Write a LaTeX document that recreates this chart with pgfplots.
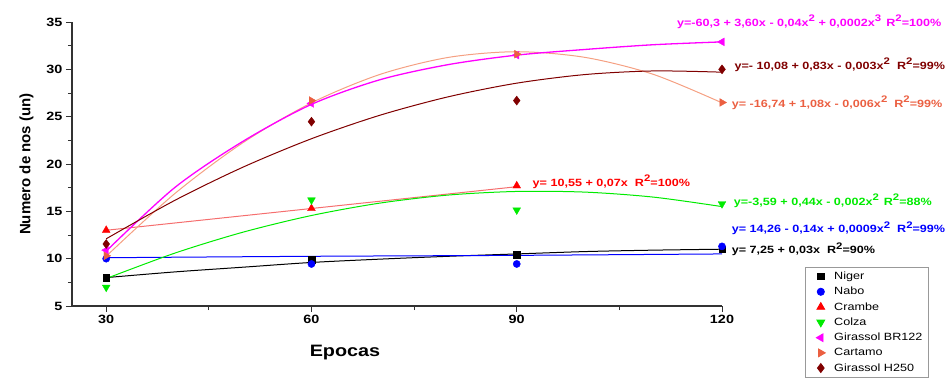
\documentclass[border=0pt]{standalone}
\usepackage{pgfplots}
\pgfplotsset{compat=1.18}
\usepackage{fontspec}
\setmainfont[FakeStretch=1.2]{Liberation Sans}
\newfontfamily\ylabfont{Liberation Sans}
\definecolor{cgreen}{RGB}{0,235,0}
\definecolor{cblue}{RGB}{0,0,255}
\definecolor{cred}{RGB}{255,0,0}
\definecolor{credline}{RGB}{245,110,110}
\definecolor{cmag}{RGB}{255,0,255}
\definecolor{ccoral}{RGB}{235,95,65}
\definecolor{ccoralline}{RGB}{245,160,130}
\definecolor{cdark}{RGB}{128,0,0}
\definecolor{caxis}{RGB}{50,50,50}
\newcommand{\eqf}{\fontsize{10.5}{12}\selectfont\bfseries}
\newcommand{\sq}[1]{\raisebox{0.45em}{\fontsize{9.5}{10}\selectfont #1}}
\begin{document}
\begin{tikzpicture}
\path[use as bounding box] (-72pt,-85pt) rectangle (878pt,306pt);
\begin{axis}[
  at={(0pt,0pt)}, anchor=south west,
  scale only axis, width=650pt, height=284pt,
  xmin=25, xmax=120, ymin=5, ymax=35,
  clip=false,
  axis x line*=bottom, axis y line*=left,
  axis line style={-, line width=1.1pt, caxis},
  xtick={30,60,90,120}, minor xtick={45,75,105},
  ytick={5,10,...,35}, minor ytick={7.5,12.5,...,32.5},
  tick align=outside,
  major tick length=6pt, minor tick length=4pt,
  every tick/.style={line width=1pt, caxis},
  /pgf/number format/assume math mode=true,
  tick label style={font=\fontsize{12}{14}\selectfont\bfseries},
  xlabel={Epocas},
  xlabel style={at={(axis description cs:0.42,-0.165)}, anchor=center, font=\fontsize{16.5}{18}\selectfont\bfseries},
  ylabel={Numero de nos (un)},
  ylabel style={at={(axis description cs:-0.07,0.5)}, anchor=center, font=\ylabfont\fontsize{15}{17}\selectfont\bfseries},
  legend style={at={(axis description cs:1.1277,-0.2535)}, anchor=south west,
    draw=gray!80, line width=0.8pt, font=\fontsize{10.5}{12}\selectfont,
    row sep=2.2pt, inner xsep=4pt, inner ysep=3pt},
  legend cell align=left,
  legend image code/.code={\path[#1] (0pt,0pt) (22pt,0pt); \draw[#1] plot coordinates {(11pt,0pt)};},
]
% fitted curves
\addplot[forget plot, smooth, black, line width=1pt] coordinates {(30,8.0) (40,8.6) (50,9.1) (60,9.6) (70,9.95) (80,10.25) (90,10.5) (100,10.75) (110,10.9) (120,11.0)};
\addplot[forget plot, smooth, cblue, line width=1pt] coordinates {(30,10.1) (60,10.25) (90,10.35) (120,10.5)};
\addplot[forget plot, credline, line width=1pt] coordinates {(30,13.0) (60,15.3) (90,17.6)};
\addplot[forget plot, smooth, cgreen, line width=1pt] coordinates {(30,7.9) (40,10.58) (50,12.8) (60,14.56) (70,15.87) (80,16.72) (90,17.1) (100,17.03) (110,16.5) (120,15.5)};
\addplot[forget plot, smooth, ccoralline, line width=1pt] coordinates {(30,10.26) (40,16.86) (50,22.26) (60,26.46) (70,29.46) (80,31.26) (90,31.86) (100,31.26) (110,29.46) (120,26.46)};
\addplot[forget plot, smooth, cmag, line width=1.3pt] coordinates {(30,10.8) (40,17.5) (50,22.4) (60,26.3) (70,28.9) (80,30.5) (90,31.5) (100,32.1) (110,32.6) (120,32.9)};
\addplot[forget plot, smooth, cdark, line width=1pt] coordinates {(30,12.1) (40,16.15) (50,19.67) (60,22.67) (70,25.15) (80,27.1) (90,28.54) (100,29.45) (110,29.83) (120,29.7)};
% data markers
\addplot[only marks, mark=square*, mark size=3.3pt, black] coordinates {(30,8.0) (60,9.86) (90,10.45) (120,11.0)};
\addlegendentry{Niger}
\addplot[only marks, mark=*, mark size=3.6pt, cblue] coordinates {(30,10.0) (60,9.44) (90,9.44) (120,11.3)};
\addlegendentry{Nabo}
\addplot[only marks, mark=triangle*, mark size=4.5pt, cred] coordinates {(30,13.0) (60,15.3) (90,17.7)};
\addlegendentry{Crambe}
\addplot[only marks, mark=triangle*, mark size=4.5pt, cgreen, mark options={rotate=180}] coordinates {(30,6.98) (60,16.2) (90,15.14) (120,15.8)};
\addlegendentry{Colza}
\addplot[only marks, mark=triangle*, mark size=4.5pt, cmag, mark options={rotate=90}] coordinates {(30,10.9) (60,26.4) (90,31.5) (120,32.9)};
\addlegendentry{Girassol BR122}
\addplot[only marks, mark=triangle*, mark size=4.5pt, ccoral, mark options={rotate=-90}] coordinates {(30,10.3) (60,26.7) (90,31.6) (120,26.5)};
\addlegendentry{Cartamo}
\addplot[only marks, mark=diamond*, mark size=4.5pt, cdark] coordinates {(30,11.55) (60,24.47) (90,26.7) (120,30.0)};
\addlegendentry{Girassol H250}
% equations
\node[anchor=west, text=cmag, font=\eqf, inner sep=0pt] at (axis cs:113.4,35.0) {y=-60,3 + 3,60x - 0,04x\sq{2} + 0,0002x\sq{3}\hspace{5pt}R\sq{2}=100\%};
\node[anchor=west, text=cdark, font=\eqf, inner sep=0pt] at (axis cs:121.8,30.5) {y=- 10,08 + 0,83x - 0,003x\sq{2}\hspace{7pt}R\sq{2}=99\%};
\node[anchor=west, text=ccoral, font=\eqf, inner sep=0pt] at (axis cs:121.4,26.5) {y= -16,74 + 1,08x - 0,006x\sq{2}\hspace{7pt}R\sq{2}=99\%};
\node[anchor=west, text=cred, font=\eqf, inner sep=0pt] at (axis cs:92.3,18.1) {y= 10,55 + 0,07x\hspace{7pt}R\sq{2}=100\%};
\node[anchor=west, text=cgreen, font=\eqf, inner sep=0pt] at (axis cs:121.7,16.1) {y=-3,59 + 0,44x - 0,002x\sq{2}\hspace{5pt}R\sq{2}=88\%};
\node[anchor=west, text=cblue, font=\eqf, inner sep=0pt] at (axis cs:121.4,13.2) {y= 14,26 - 0,14x + 0,0009x\sq{2}\hspace{7pt}R\sq{2}=99\%};
\node[anchor=west, text=black, font=\eqf, inner sep=0pt] at (axis cs:121.4,11.0) {y= 7,25 + 0,03x\hspace{7pt}R\sq{2}=90\%};
\end{axis}
\end{tikzpicture}
\end{document}
